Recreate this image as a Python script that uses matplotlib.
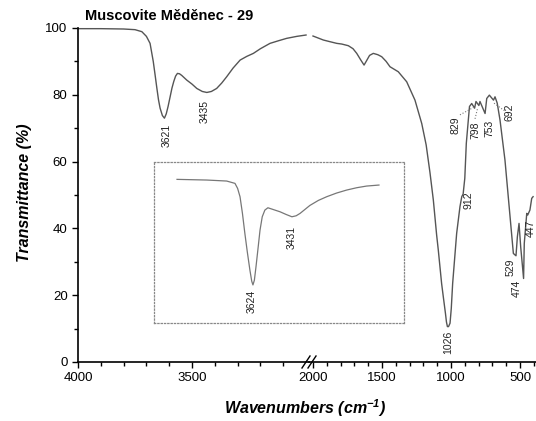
import numpy as np
import matplotlib
matplotlib.use('Agg')
import matplotlib.pyplot as plt
from matplotlib.lines import Line2D
from matplotlib.ticker import FixedLocator

plt.rcParams['font.family'] = ['Liberation Sans', 'DejaVu Sans']
plt.rcParams['mathtext.fontset'] = 'custom'
plt.rcParams['mathtext.rm'] = 'Liberation Sans'
plt.rcParams['mathtext.default'] = 'regular'

# espectro, tramo alto (4000-3000)
wn_high = [4000, 3900, 3800, 3750, 3720, 3700, 3684, 3670, 3662, 3655, 3647, 3640,
           3630, 3621, 3613, 3605, 3596, 3588, 3580, 3572, 3564, 3555, 3545, 3523,
           3500, 3479, 3455, 3435, 3415, 3392, 3370, 3348, 3320, 3289, 3260, 3231,
           3200, 3158, 3120, 3085, 3040, 3000]
tr_high = [99.8, 99.8, 99.7, 99.5, 98.9, 97.5, 95.4, 90.0, 86.0, 82.4, 78.5, 76.0,
           73.8, 73.0, 74.3, 76.5, 79.4, 82.0, 84.0, 85.6, 86.4, 86.3, 85.8, 84.4,
           83.2, 81.9, 81.0, 80.7, 81.0, 81.9, 83.5, 85.4, 88.0, 90.4, 91.5, 92.4,
           93.8, 95.4, 96.2, 96.9, 97.5, 97.9]

# tramo bajo (2000-400)
wn_low = [2000, 1925, 1877, 1828, 1792, 1744, 1710, 1683, 1655, 1630, 1612, 1590,
          1563, 1530, 1502, 1470, 1442, 1382, 1321, 1261, 1212, 1180, 1152, 1128,
          1104, 1092, 1068, 1056, 1040, 1033, 1026, 1018, 1007, 998, 988, 959, 935,
          922, 912, 900, 889, 866, 850, 829, 819, 798, 790, 753, 741, 722, 692, 681,
          665, 645, 609, 572, 548, 529, 519, 507, 495, 474, 469, 451, 444, 428, 415, 405]
tr_low = [97.6, 96.4, 95.9, 95.4, 95.2, 94.7, 93.8, 92.4, 90.5, 88.9, 90.2, 91.8,
          92.4, 92.0, 91.4, 90.0, 88.4, 86.9, 83.9, 78.4, 71.4, 65.0, 56.6, 48.5,
          38.0, 33.5, 23.5, 19.6, 14.5, 12.0, 10.6, 10.6, 11.6, 16.0, 23.5, 38.5, 46.5,
          49.5, 50.3, 55.0, 65.5, 76.5, 77.4, 76.0, 78.0, 76.8, 78.0, 74.4, 78.9, 79.9,
          78.4, 79.4, 77.5, 72.5, 60.5, 43.5, 32.5, 31.8, 37.5, 41.5, 34.5, 25.0, 35.5,
          44.5, 44.0, 45.5, 49.0, 49.5]

# recuadro
wn_inset = [4000, 3853, 3754, 3713, 3700, 3688, 3676, 3664, 3652, 3639, 3630, 3624,
            3617, 3609, 3598, 3589, 3578, 3565, 3550, 3520, 3490, 3460, 3431, 3410,
            3391, 3342, 3300, 3259, 3210, 3160, 3110, 3061, 3000]
tr_inset = [54.7, 54.5, 54.2, 53.5, 52.0, 49.5, 44.5, 38.5, 33.0, 27.5, 24.2, 23.1,
            24.5, 28.5, 34.5, 39.5, 43.5, 45.5, 46.2, 45.6, 45.0, 44.2, 43.5, 43.8,
            44.5, 46.9, 48.4, 49.5, 50.6, 51.5, 52.2, 52.7, 53.0]

W, H = 536, 421
fig = plt.figure(figsize=(W / 100, H / 100), dpi=100)

def rect(x0, x1, y0, y1):
    return [x0 / W, 1 - y1 / H, (x1 - x0) / W, (y1 - y0) / H]

ax1 = fig.add_axes(rect(78, 309, 28, 362))
ax2 = fig.add_axes(rect(309, 536, 28, 362))

curve = dict(color='#555555', lw=1.0, clip_on=False)
ax1.plot(wn_high, tr_high, **curve)
ax2.plot(wn_low, tr_low, **curve)

ax1.set_xlim(4000, 2987)
ax2.set_xlim(2029, 384)
for ax in (ax1, ax2):
    ax.set_ylim(0, 100)
    ax.spines['top'].set_visible(False)
    ax.spines['right'].set_visible(False)
    ax.spines['bottom'].set_linewidth(1.2)
    ax.spines['left'].set_linewidth(1.2)
    ax.tick_params(which='both', direction='out', width=1.0, labelsize=9.5, pad=3)
    ax.tick_params(which='major', length=4.5)
    ax.tick_params(which='minor', length=2.8)
    ax.patch.set_alpha(0)

ax1.xaxis.set_major_locator(FixedLocator([4000, 3500]))
ax1.xaxis.set_minor_locator(FixedLocator(range(3100, 4000, 100)))
ax1.yaxis.set_major_locator(FixedLocator(range(0, 101, 20)))
ax1.yaxis.set_minor_locator(FixedLocator(range(10, 100, 20)))

ax2.spines['left'].set_visible(False)
ax2.tick_params(axis='y', which='both', left=False, labelleft=False)
ax2.xaxis.set_major_locator(FixedLocator([2000, 1500, 1000, 500]))
ax2.xaxis.set_minor_locator(FixedLocator(range(400, 2000, 100)))

# marca de corte
for dx in (0, 6):
    fig.add_artist(Line2D([(302 + dx) / W, (310 + dx) / W], [1 - 368 / H, 1 - 356 / H],
                          color='black', lw=1.0))

txt = dict(rotation=90, ha='center', va='center', fontsize=7.5, color='#222222')
ax1.text(3611, 68, '3621', **txt)
ax1.text(3443, 75.1, '3435', **txt)
for x, y, s in [(1020, 5.8, '1026'), (875, 48.5, '912'), (967, 71, '829'),
                (826, 69.5, '798'), (725, 69.8, '753'), (576, 74.7, '692'),
                (569, 28.5, '529'), (522, 22.1, '474'), (420, 40.1, '447')]:
    ax2.text(x, y, s, clip_on=False, **txt)

dot = dict(color='#777777', lw=0.8, ls=':')
ax2.plot([935, 838], [74, 76.2], **dot)
ax2.plot([826, 806], [72.8, 76.2], **dot)
ax2.plot([688, 612], [77.5, 75.2], **dot)

# recuadro con el otro espectro
axi = fig.add_axes(rect(154, 404, 162, 323))
axi.plot(wn_inset, tr_inset, color='#777777', lw=0.9)
axi.set_xlim(4114, 2876)
axi.set_ylim(11.7, 59.9)
axi.set_xticks([])
axi.set_yticks([])
for sp in axi.spines.values():
    sp.set_linestyle(':')
    sp.set_color('#888888')
    sp.set_linewidth(0.9)
axi.text(3629, 18.3, '3624', **txt)
axi.text(3431, 37.4, '3431', **txt)

fig.text(85 / W, 1 - 16 / H, 'Muscovite Měděnec - 29', fontsize=10.5,
         fontweight='bold', va='center', ha='left')
fig.text(25 / W, 1 - 193 / H, 'Transmittance (%)', fontsize=11.5, fontweight='bold',
         style='italic', rotation=90, ha='center', va='center')
fig.text(305 / W, 1 - 408 / H, r'Wavenumbers (cm$^{-1}$)', fontsize=11.5,
         fontweight='bold', style='italic', ha='center', va='center')

fig.savefig('out.png', dpi=100)
